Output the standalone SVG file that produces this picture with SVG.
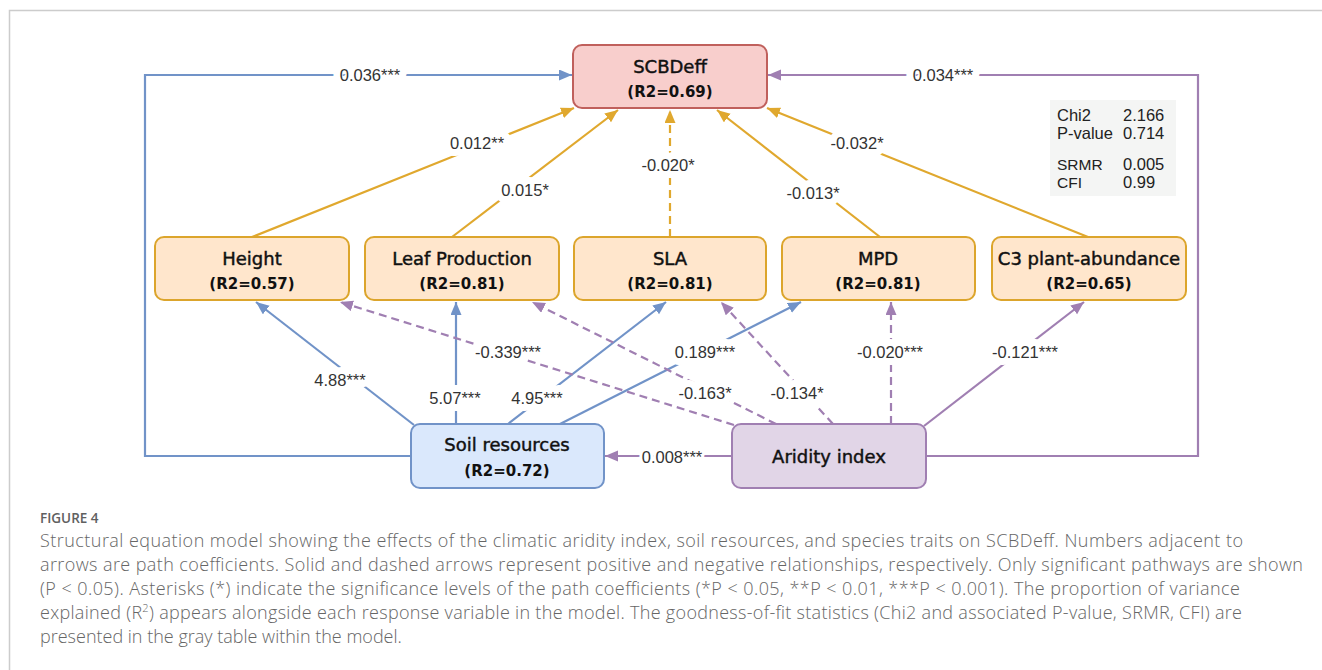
<svg xmlns="http://www.w3.org/2000/svg" width="1322" height="670" viewBox="0 0 1322 670">
<style>
.box{stroke-width:2}
.trait{fill:#ffe6cc;stroke:#dca52c}
.t1{font-family:"DejaVu Sans",sans-serif;font-size:18px;fill:#111;stroke:#111;stroke-width:0.45px;text-anchor:middle}
.t2{font-family:"DejaVu Sans",sans-serif;font-size:15px;font-weight:bold;fill:#111;text-anchor:middle}
.lab{font-family:"Liberation Sans",Arial,sans-serif;font-size:16.5px;fill:#333;text-anchor:middle;stroke:#fff;stroke-width:14px;paint-order:stroke;stroke-linejoin:round}
.blue{stroke:#7193c8;stroke-width:2.2;fill:none}
.purple{stroke:#a07fb2;stroke-width:2.2;fill:none}
.gold{stroke:#e0a82e;stroke-width:2.2;fill:none}
.dash{stroke-dasharray:8,5}
.stat{font-family:"Liberation Sans",Arial,sans-serif;font-size:16.5px;fill:#222}
.cap{font-family:"Open Sans",sans-serif;font-size:18px;font-weight:300;fill:#666}
</style>
<defs>
<marker id="ab" markerUnits="userSpaceOnUse" markerWidth="14" markerHeight="12" refX="13" refY="5.5" orient="auto"><path d="M0,0 L13,5.5 L0,11 z" fill="#7193c8"/></marker>
<marker id="ap" markerUnits="userSpaceOnUse" markerWidth="14" markerHeight="12" refX="13" refY="5.5" orient="auto"><path d="M0,0 L13,5.5 L0,11 z" fill="#a07fb2"/></marker>
<marker id="ag" markerUnits="userSpaceOnUse" markerWidth="14" markerHeight="12" refX="13" refY="5.5" orient="auto"><path d="M0,0 L13,5.5 L0,11 z" fill="#e0a82e"/></marker>
</defs>
<rect width="1322" height="670" fill="#fff"/>
<path d="M9.5,670 V10.5 H1322" fill="none" stroke="#cccccc" stroke-width="1.5"/>

<g id="connectors">
<path class="blue" d="M411,456 H145 V75 H572" marker-end="url(#ab)"/>
<path class="purple" d="M926,456 H1198 V75 H768" marker-end="url(#ap)"/>
<path class="gold" d="M252,237 L574,108" marker-end="url(#ag)"/>
<path class="gold" d="M452,237 L618,110" marker-end="url(#ag)"/>
<path class="gold dash" d="M670,237 L670,110" marker-end="url(#ag)"/>
<path class="gold" d="M880,237 L717,110" marker-end="url(#ag)"/>
<path class="gold" d="M1088,237 L767,108" marker-end="url(#ag)"/>
<path class="blue" d="M414,425 L256,302" marker-end="url(#ab)"/>
<path class="blue" d="M456,424 L456,302" marker-end="url(#ab)"/>
<path class="blue" d="M508,424 L666,302" marker-end="url(#ab)"/>
<path class="blue" d="M560,424 L801,302" marker-end="url(#ab)"/>
<path class="purple dash" d="M734,425 L340,302" marker-end="url(#ap)"/>
<path class="purple dash" d="M776,424 L532,302" marker-end="url(#ap)"/>
<path class="purple dash" d="M833,424 L721,302" marker-end="url(#ap)"/>
<path class="purple dash" d="M891,424 L891,302" marker-end="url(#ap)"/>
<path class="purple" d="M924,426 L1084,302" marker-end="url(#ap)"/>
<path class="purple" d="M732,456 L605,456" marker-end="url(#ap)"/>

<text class="lab" x="370" y="81">0.036***</text>
<text class="lab" x="943" y="81">0.034***</text>
<text class="lab" x="477" y="149">0.012**</text>
<text class="lab" x="525" y="196">0.015*</text>
<text class="lab" x="668" y="171">-0.020*</text>
<text class="lab" x="813" y="199">-0.013*</text>
<text class="lab" x="857" y="149">-0.032*</text>
<text class="lab" x="340" y="386">4.88***</text>
<text class="lab" x="455" y="404">5.07***</text>
<text class="lab" x="537" y="404">4.95***</text>
<text class="lab" x="508" y="358">-0.339***</text>
<text class="lab" x="705" y="358">0.189***</text>
<text class="lab" x="705" y="399">-0.163*</text>
<text class="lab" x="797" y="399">-0.134*</text>
<text class="lab" x="890" y="358">-0.020***</text>
<text class="lab" x="1025" y="358">-0.121***</text>
<text class="lab" x="672" y="463" style="stroke-width:6px">0.008***</text>
</g>

<g id="scbdeff">
<rect class="box" x="573" y="45" width="194" height="63" rx="9" fill="#f8cecc" stroke="#c0605c"/>
<text class="t1" x="670" y="73">SCBDeff</text>
<text class="t2" x="670" y="97">(R2=0.69)</text>
</g>
<g id="height">
<rect class="box trait" x="155" y="237" width="194" height="63" rx="9"/>
<text class="t1" x="252" y="265">Height</text>
<text class="t2" x="252" y="289">(R2=0.57)</text>
</g>
<g id="leaf">
<rect class="box trait" x="365" y="237" width="194" height="63" rx="9"/>
<text class="t1" x="462" y="265">Leaf Production</text>
<text class="t2" x="462" y="289">(R2=0.81)</text>
</g>
<g id="sla">
<rect class="box trait" x="574" y="237" width="192" height="63" rx="9"/>
<text class="t1" x="670" y="265">SLA</text>
<text class="t2" x="670" y="289">(R2=0.81)</text>
</g>
<g id="mpd">
<rect class="box trait" x="782" y="237" width="193" height="63" rx="9"/>
<text class="t1" x="878" y="265">MPD</text>
<text class="t2" x="878" y="289">(R2=0.81)</text>
</g>
<g id="c3">
<rect class="box trait" x="992" y="237" width="194" height="63" rx="9"/>
<text class="t1" x="1089" y="265">C3 plant-abundance</text>
<text class="t2" x="1089" y="289">(R2=0.65)</text>
</g>
<g id="soil">
<rect class="box" x="411" y="424" width="193" height="64" rx="9" fill="#dae8fc" stroke="#7193c8"/>
<text class="t1" x="507" y="451">Soil resources</text>
<text class="t2" x="507" y="476">(R2=0.72)</text>
</g>
<g id="aridity">
<rect class="box" x="732" y="424" width="194" height="64" rx="9" fill="#e1d5e7" stroke="#a07fb2"/>
<text class="t1" x="829" y="463">Aridity index</text>
</g>

<g id="stats">
<rect x="1050" y="100" width="126" height="96" fill="#f4f5f4"/>
<text class="stat" x="1057" y="121">Chi2</text>
<text class="stat" x="1123" y="121">2.166</text>
<text class="stat" x="1057" y="139">P-value</text>
<text class="stat" x="1123" y="139">0.714</text>
<text class="stat" x="1057" y="170" style="font-size:15.5px">SRMR</text>
<text class="stat" x="1123" y="170">0.005</text>
<text class="stat" x="1057" y="188" style="font-size:15.5px">CFI</text>
<text class="stat" x="1123" y="188">0.99</text>
</g>

<g id="caption">
<text x="40" y="523" font-family="'Open Sans',sans-serif" font-size="13.5" font-weight="600" fill="#606060">FIGURE 4</text>
<text class="cap" x="40" y="547" textLength="1203" lengthAdjust="spacing">Structural equation model showing the effects of the climatic aridity index, soil resources, and species traits on SCBDeff. Numbers adjacent to</text>
<text class="cap" x="40" y="571" textLength="1263" lengthAdjust="spacing">arrows are path coefficients. Solid and dashed arrows represent positive and negative relationships, respectively. Only significant pathways are shown</text>
<text class="cap" x="40" y="595" textLength="1200" lengthAdjust="spacing">(P &lt; 0.05). Asterisks (*) indicate the significance levels of the path coefficients (*P &lt; 0.05, **P &lt; 0.01, ***P &lt; 0.001). The proportion of variance</text>
<text class="cap" x="40" y="619" textLength="1202" lengthAdjust="spacing">explained (R<tspan font-size="11" dy="-7">2</tspan><tspan dy="7">) appears alongside each response variable in the model. The goodness-of-fit statistics (Chi2 and associated P-value, SRMR, CFI) are</tspan></text>
<text class="cap" x="40" y="643">presented in the gray table within the model.</text>
</g>
</svg>
